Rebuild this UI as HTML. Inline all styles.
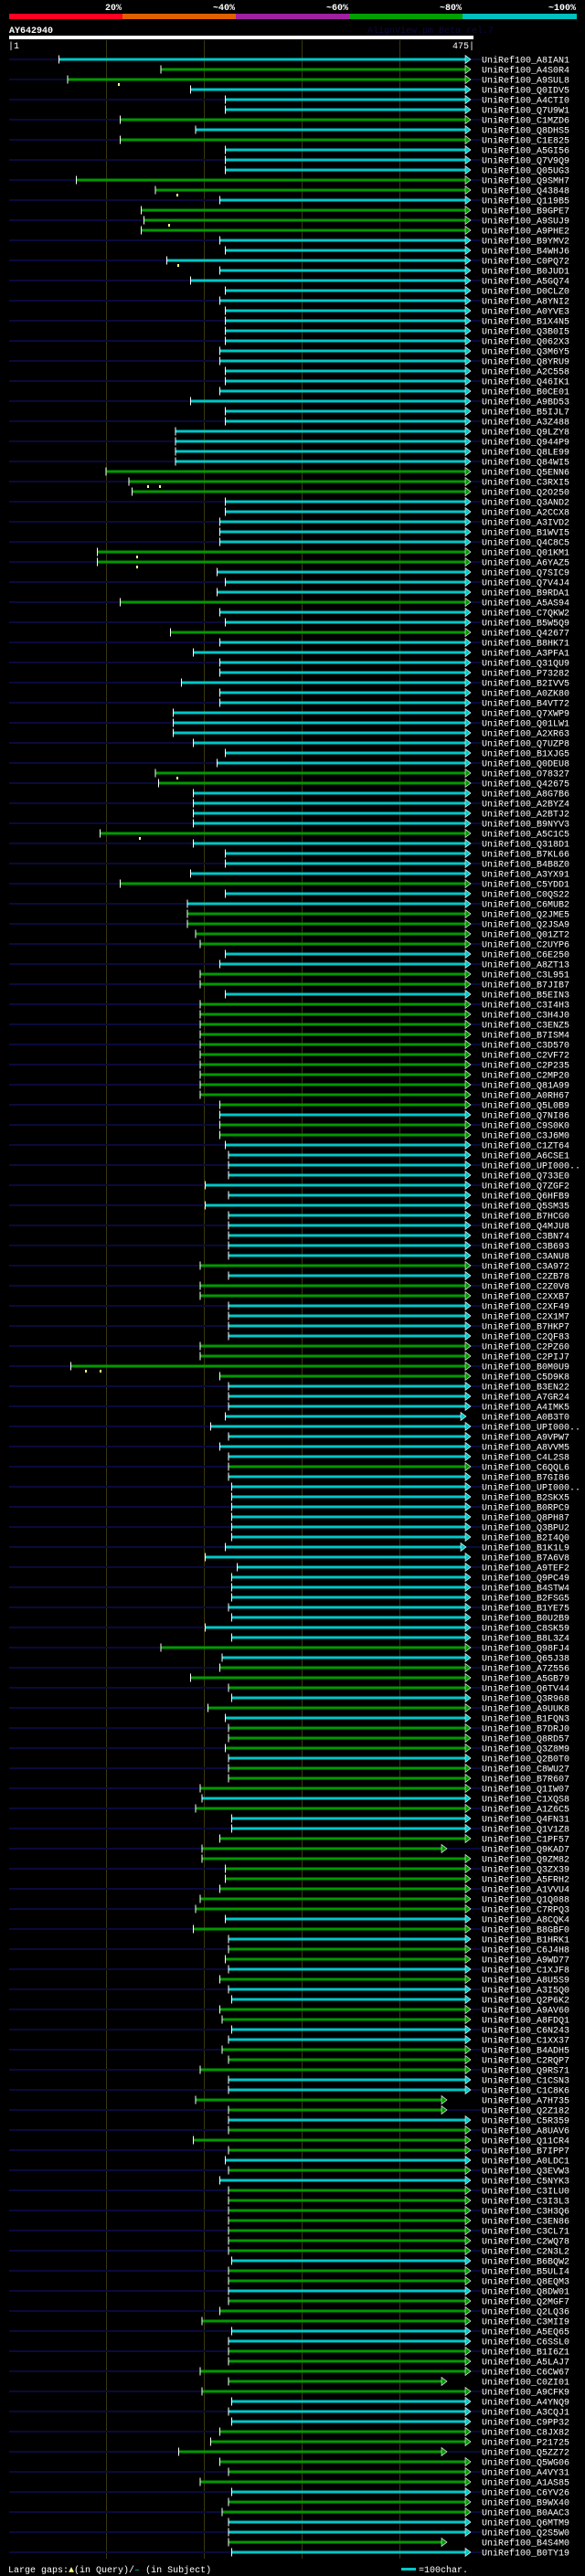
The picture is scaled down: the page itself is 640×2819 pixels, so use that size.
<!DOCTYPE html>
<html><head><meta charset="utf-8"><style>
html,body{margin:0;padding:0;background:#000;}
svg{display:block;}
text{font-family:"Liberation Mono",monospace;font-size:10px;fill:#fff;}
.c{stroke:#00c8c8;stroke-width:3;fill:none;}
.g{stroke:#009a00;stroke-width:3;fill:none;}
</style></head><body>
<svg width="640" height="2819" viewBox="0 0 640 2819" xmlns="http://www.w3.org/2000/svg">
<defs>
<polygon id="ac" points="509,-4.5 515,0 509,4.5" fill="#00c8c8" stroke="#fff" stroke-width="0.6"/>
<polygon id="ag" points="509,-4.5 515,0 509,4.5" fill="#009a00" stroke="#fff" stroke-width="0.6"/>
<rect id="t" x="-0.5" y="-4.5" width="1" height="9" fill="#fff"/>
<pattern id="nv" x="0" y="64" width="517" height="22" patternUnits="userSpaceOnUse"><rect x="0" y="0" width="517" height="2" fill="#0a0a3c"/></pattern>
</defs>
<rect width="640" height="2819" fill="#000"/>
<!-- header -->
<g font-weight="bold" text-anchor="end">
<text x="133" y="11" font-weight="bold">20%</text>
<text x="257" y="11" font-weight="bold">~40%</text>
<text x="381" y="11" font-weight="bold">~60%</text>
<text x="505" y="11" font-weight="bold">~80%</text>
<text x="630" y="11" font-weight="bold">~100%</text>
</g>
<rect x="10" y="15" width="124" height="6" fill="#ff0020"/>
<rect x="134" y="15" width="124" height="6" fill="#e06000"/>
<rect x="258" y="15" width="124" height="6" fill="#a020a0"/>
<rect x="382" y="15" width="124" height="6" fill="#00a000"/>
<rect x="506" y="15" width="125" height="6" fill="#00c0c0"/>
<text x="10" y="36" font-weight="bold" font-size="11">AY642940</text>
<text x="402" y="36" style="fill:#0a0a40">AlignView.pm Beta rel.7</text>
<rect x="10" y="39" width="508" height="4" fill="#fff"/>
<text x="9" y="53">|1</text>
<text x="519" y="53" text-anchor="end">475|</text>
<!-- grid -->
<g stroke="#3a3810" stroke-width="1">
<line x1="116.5" y1="44" x2="116.5" y2="2800"/>
<line x1="223.5" y1="44" x2="223.5" y2="2800"/>
<line x1="330.5" y1="44" x2="330.5" y2="2800"/>
<line x1="437.5" y1="44" x2="437.5" y2="2800"/>
</g>
<rect x="10" y="64" width="517" height="2730" fill="url(#nv)"/>
<g transform="translate(0,65)"><path class="c" d="M64.5 0H510"/><use href="#ac"/><use href="#t" x="64.5"/><text x="527" y="3.5">UniRef100_A8IAN1</text></g>
<g transform="translate(0,76)"><path class="g" d="M176 0H510"/><use href="#ag"/><use href="#t" x="176"/><text x="527" y="3.5">UniRef100_A4S0R4</text></g>
<g transform="translate(0,87)"><path class="g" d="M74 0H510"/><use href="#ag"/><use href="#t" x="74"/><rect x="129" y="4" width="2" height="3" fill="#ffff80"/><text x="527" y="3.5">UniRef100_A9SUL8</text></g>
<g transform="translate(0,98)"><path class="c" d="M208.5 0H510"/><use href="#ac"/><use href="#t" x="208.5"/><text x="527" y="3.5">UniRef100_Q0IDV5</text></g>
<g transform="translate(0,109)"><path class="c" d="M246.5 0H510"/><use href="#ac"/><use href="#t" x="246.5"/><text x="527" y="3.5">UniRef100_A4CTI0</text></g>
<g transform="translate(0,120)"><path class="c" d="M246.5 0H510"/><use href="#ac"/><use href="#t" x="246.5"/><text x="527" y="3.5">UniRef100_Q7U9W1</text></g>
<g transform="translate(0,131)"><path class="g" d="M131.5 0H510"/><use href="#ag"/><use href="#t" x="131.5"/><text x="527" y="3.5">UniRef100_C1MZD6</text></g>
<g transform="translate(0,142)"><path class="c" d="M214 0H510"/><use href="#ac"/><use href="#t" x="214"/><text x="527" y="3.5">UniRef100_Q8DHS5</text></g>
<g transform="translate(0,153)"><path class="g" d="M131.5 0H510"/><use href="#ag"/><use href="#t" x="131.5"/><text x="527" y="3.5">UniRef100_C1E825</text></g>
<g transform="translate(0,164)"><path class="c" d="M246.5 0H510"/><use href="#ac"/><use href="#t" x="246.5"/><text x="527" y="3.5">UniRef100_A5GI56</text></g>
<g transform="translate(0,175)"><path class="c" d="M246.5 0H510"/><use href="#ac"/><use href="#t" x="246.5"/><text x="527" y="3.5">UniRef100_Q7V9Q9</text></g>
<g transform="translate(0,186)"><path class="c" d="M246.5 0H510"/><use href="#ac"/><use href="#t" x="246.5"/><text x="527" y="3.5">UniRef100_Q05UG3</text></g>
<g transform="translate(0,197)"><path class="g" d="M83.5 0H510"/><use href="#ag"/><use href="#t" x="83.5"/><text x="527" y="3.5">UniRef100_Q9SMH7</text></g>
<g transform="translate(0,208)"><path class="g" d="M170 0H510"/><use href="#ag"/><use href="#t" x="170"/><rect x="193" y="4" width="2" height="3" fill="#ffff80"/><text x="527" y="3.5">UniRef100_Q43848</text></g>
<g transform="translate(0,219)"><path class="c" d="M240.5 0H510"/><use href="#ac"/><use href="#t" x="240.5"/><text x="527" y="3.5">UniRef100_Q119B5</text></g>
<g transform="translate(0,230)"><path class="g" d="M154.5 0H510"/><use href="#ag"/><use href="#t" x="154.5"/><text x="527" y="3.5">UniRef100_B9GPE7</text></g>
<g transform="translate(0,241)"><path class="g" d="M157.5 0H510"/><use href="#ag"/><use href="#t" x="157.5"/><rect x="184" y="4" width="2" height="3" fill="#ffff80"/><text x="527" y="3.5">UniRef100_A9SUJ9</text></g>
<g transform="translate(0,252)"><path class="g" d="M154.5 0H510"/><use href="#ag"/><use href="#t" x="154.5"/><text x="527" y="3.5">UniRef100_A9PHE2</text></g>
<g transform="translate(0,263)"><path class="c" d="M240.5 0H510"/><use href="#ac"/><use href="#t" x="240.5"/><text x="527" y="3.5">UniRef100_B9YMV2</text></g>
<g transform="translate(0,274)"><path class="c" d="M246.5 0H510"/><use href="#ac"/><use href="#t" x="246.5"/><text x="527" y="3.5">UniRef100_B4WHJ6</text></g>
<g transform="translate(0,285)"><path class="c" d="M182.5 0H510"/><use href="#ac"/><use href="#t" x="182.5"/><rect x="194" y="4" width="2" height="3" fill="#ffff80"/><text x="527" y="3.5">UniRef100_C0PQ72</text></g>
<g transform="translate(0,296)"><path class="c" d="M240.5 0H510"/><use href="#ac"/><use href="#t" x="240.5"/><text x="527" y="3.5">UniRef100_B0JUD1</text></g>
<g transform="translate(0,307)"><path class="c" d="M208.5 0H510"/><use href="#ac"/><use href="#t" x="208.5"/><text x="527" y="3.5">UniRef100_A5GQ74</text></g>
<g transform="translate(0,318)"><path class="c" d="M246.5 0H510"/><use href="#ac"/><use href="#t" x="246.5"/><text x="527" y="3.5">UniRef100_D0CLZ0</text></g>
<g transform="translate(0,329)"><path class="c" d="M240.5 0H510"/><use href="#ac"/><use href="#t" x="240.5"/><text x="527" y="3.5">UniRef100_A8YNI2</text></g>
<g transform="translate(0,340)"><path class="c" d="M246.5 0H510"/><use href="#ac"/><use href="#t" x="246.5"/><text x="527" y="3.5">UniRef100_A0YVE3</text></g>
<g transform="translate(0,351)"><path class="c" d="M246.5 0H510"/><use href="#ac"/><use href="#t" x="246.5"/><text x="527" y="3.5">UniRef100_B1X4N5</text></g>
<g transform="translate(0,362)"><path class="c" d="M246.5 0H510"/><use href="#ac"/><use href="#t" x="246.5"/><text x="527" y="3.5">UniRef100_Q3B0I5</text></g>
<g transform="translate(0,373)"><path class="c" d="M246.5 0H510"/><use href="#ac"/><use href="#t" x="246.5"/><text x="527" y="3.5">UniRef100_Q062X3</text></g>
<g transform="translate(0,384)"><path class="c" d="M240.5 0H510"/><use href="#ac"/><use href="#t" x="240.5"/><text x="527" y="3.5">UniRef100_Q3M6Y5</text></g>
<g transform="translate(0,395)"><path class="c" d="M240.5 0H510"/><use href="#ac"/><use href="#t" x="240.5"/><text x="527" y="3.5">UniRef100_Q8YRU9</text></g>
<g transform="translate(0,406)"><path class="c" d="M246.5 0H510"/><use href="#ac"/><use href="#t" x="246.5"/><text x="527" y="3.5">UniRef100_A2C558</text></g>
<g transform="translate(0,417)"><path class="c" d="M246.5 0H510"/><use href="#ac"/><use href="#t" x="246.5"/><text x="527" y="3.5">UniRef100_Q46IK1</text></g>
<g transform="translate(0,428)"><path class="c" d="M240.5 0H510"/><use href="#ac"/><use href="#t" x="240.5"/><text x="527" y="3.5">UniRef100_B0CE01</text></g>
<g transform="translate(0,439)"><path class="c" d="M208.5 0H510"/><use href="#ac"/><use href="#t" x="208.5"/><text x="527" y="3.5">UniRef100_A9BD53</text></g>
<g transform="translate(0,450)"><path class="c" d="M246.5 0H510"/><use href="#ac"/><use href="#t" x="246.5"/><text x="527" y="3.5">UniRef100_B5IJL7</text></g>
<g transform="translate(0,461)"><path class="c" d="M246.5 0H510"/><use href="#ac"/><use href="#t" x="246.5"/><text x="527" y="3.5">UniRef100_A3Z488</text></g>
<g transform="translate(0,472)"><path class="c" d="M192 0H510"/><use href="#ac"/><use href="#t" x="192"/><text x="527" y="3.5">UniRef100_Q9LZY8</text></g>
<g transform="translate(0,483)"><path class="c" d="M192 0H510"/><use href="#ac"/><use href="#t" x="192"/><text x="527" y="3.5">UniRef100_Q944P9</text></g>
<g transform="translate(0,494)"><path class="c" d="M192 0H510"/><use href="#ac"/><use href="#t" x="192"/><text x="527" y="3.5">UniRef100_Q8LE99</text></g>
<g transform="translate(0,505)"><path class="c" d="M192 0H510"/><use href="#ac"/><use href="#t" x="192"/><text x="527" y="3.5">UniRef100_Q84WI5</text></g>
<g transform="translate(0,516)"><path class="g" d="M116 0H510"/><use href="#ag"/><use href="#t" x="116"/><text x="527" y="3.5">UniRef100_Q5ENN6</text></g>
<g transform="translate(0,527)"><path class="g" d="M141 0H510"/><use href="#ag"/><use href="#t" x="141"/><rect x="161" y="4" width="2" height="3" fill="#ffff80"/><rect x="174" y="4" width="2" height="3" fill="#ffff80"/><text x="527" y="3.5">UniRef100_C3RXI5</text></g>
<g transform="translate(0,538)"><path class="g" d="M144.5 0H510"/><use href="#ag"/><use href="#t" x="144.5"/><text x="527" y="3.5">UniRef100_Q2O250</text></g>
<g transform="translate(0,549)"><path class="c" d="M246.5 0H510"/><use href="#ac"/><use href="#t" x="246.5"/><text x="527" y="3.5">UniRef100_Q3AND2</text></g>
<g transform="translate(0,560)"><path class="c" d="M246.5 0H510"/><use href="#ac"/><use href="#t" x="246.5"/><text x="527" y="3.5">UniRef100_A2CCX8</text></g>
<g transform="translate(0,571)"><path class="c" d="M240.5 0H510"/><use href="#ac"/><use href="#t" x="240.5"/><text x="527" y="3.5">UniRef100_A3IVD2</text></g>
<g transform="translate(0,582)"><path class="c" d="M240.5 0H510"/><use href="#ac"/><use href="#t" x="240.5"/><text x="527" y="3.5">UniRef100_B1WVI5</text></g>
<g transform="translate(0,593)"><path class="c" d="M240.5 0H510"/><use href="#ac"/><use href="#t" x="240.5"/><text x="527" y="3.5">UniRef100_Q4C8C5</text></g>
<g transform="translate(0,604)"><path class="g" d="M106.5 0H510"/><use href="#ag"/><use href="#t" x="106.5"/><rect x="149" y="4" width="2" height="3" fill="#ffff80"/><text x="527" y="3.5">UniRef100_Q01KM1</text></g>
<g transform="translate(0,615)"><path class="g" d="M106.5 0H510"/><use href="#ag"/><use href="#t" x="106.5"/><rect x="149" y="4" width="2" height="3" fill="#ffff80"/><text x="527" y="3.5">UniRef100_A6YAZ5</text></g>
<g transform="translate(0,626)"><path class="c" d="M237.5 0H510"/><use href="#ac"/><use href="#t" x="237.5"/><text x="527" y="3.5">UniRef100_Q7SIC9</text></g>
<g transform="translate(0,637)"><path class="c" d="M246.5 0H510"/><use href="#ac"/><use href="#t" x="246.5"/><text x="527" y="3.5">UniRef100_Q7V4J4</text></g>
<g transform="translate(0,648)"><path class="c" d="M237.5 0H510"/><use href="#ac"/><use href="#t" x="237.5"/><text x="527" y="3.5">UniRef100_B9RDA1</text></g>
<g transform="translate(0,659)"><path class="g" d="M131.5 0H510"/><use href="#ag"/><use href="#t" x="131.5"/><text x="527" y="3.5">UniRef100_A5AS94</text></g>
<g transform="translate(0,670)"><path class="c" d="M240.5 0H510"/><use href="#ac"/><use href="#t" x="240.5"/><text x="527" y="3.5">UniRef100_C7QKW2</text></g>
<g transform="translate(0,681)"><path class="c" d="M246.5 0H510"/><use href="#ac"/><use href="#t" x="246.5"/><text x="527" y="3.5">UniRef100_B5W5Q9</text></g>
<g transform="translate(0,692)"><path class="g" d="M186.5 0H510"/><use href="#ag"/><use href="#t" x="186.5"/><text x="527" y="3.5">UniRef100_Q42677</text></g>
<g transform="translate(0,703)"><path class="c" d="M240.5 0H510"/><use href="#ac"/><use href="#t" x="240.5"/><text x="527" y="3.5">UniRef100_B8HK71</text></g>
<g transform="translate(0,714)"><path class="c" d="M211.5 0H510"/><use href="#ac"/><use href="#t" x="211.5"/><text x="527" y="3.5">UniRef100_A3PFA1</text></g>
<g transform="translate(0,725)"><path class="c" d="M240.5 0H510"/><use href="#ac"/><use href="#t" x="240.5"/><text x="527" y="3.5">UniRef100_Q31QU9</text></g>
<g transform="translate(0,736)"><path class="c" d="M240.5 0H510"/><use href="#ac"/><use href="#t" x="240.5"/><text x="527" y="3.5">UniRef100_P73282</text></g>
<g transform="translate(0,747)"><path class="c" d="M198.5 0H510"/><use href="#ac"/><use href="#t" x="198.5"/><text x="527" y="3.5">UniRef100_B2IVV5</text></g>
<g transform="translate(0,758)"><path class="c" d="M240.5 0H510"/><use href="#ac"/><use href="#t" x="240.5"/><text x="527" y="3.5">UniRef100_A0ZK80</text></g>
<g transform="translate(0,769)"><path class="c" d="M240.5 0H510"/><use href="#ac"/><use href="#t" x="240.5"/><text x="527" y="3.5">UniRef100_B4VT72</text></g>
<g transform="translate(0,780)"><path class="c" d="M189.5 0H510"/><use href="#ac"/><use href="#t" x="189.5"/><text x="527" y="3.5">UniRef100_Q7XWP9</text></g>
<g transform="translate(0,791)"><path class="c" d="M189.5 0H510"/><use href="#ac"/><use href="#t" x="189.5"/><text x="527" y="3.5">UniRef100_Q01LW1</text></g>
<g transform="translate(0,802)"><path class="c" d="M189.5 0H510"/><use href="#ac"/><use href="#t" x="189.5"/><text x="527" y="3.5">UniRef100_A2XR63</text></g>
<g transform="translate(0,813)"><path class="c" d="M211.5 0H510"/><use href="#ac"/><use href="#t" x="211.5"/><text x="527" y="3.5">UniRef100_Q7UZP8</text></g>
<g transform="translate(0,824)"><path class="c" d="M246.5 0H510"/><use href="#ac"/><use href="#t" x="246.5"/><text x="527" y="3.5">UniRef100_B1XJG5</text></g>
<g transform="translate(0,835)"><path class="c" d="M237.5 0H510"/><use href="#ac"/><use href="#t" x="237.5"/><text x="527" y="3.5">UniRef100_Q0DEU8</text></g>
<g transform="translate(0,846)"><path class="g" d="M170 0H510"/><use href="#ag"/><use href="#t" x="170"/><rect x="193" y="4" width="2" height="3" fill="#ffff80"/><text x="527" y="3.5">UniRef100_O78327</text></g>
<g transform="translate(0,857)"><path class="g" d="M173.5 0H510"/><use href="#ag"/><use href="#t" x="173.5"/><text x="527" y="3.5">UniRef100_Q42675</text></g>
<g transform="translate(0,868)"><path class="c" d="M211.5 0H510"/><use href="#ac"/><use href="#t" x="211.5"/><text x="527" y="3.5">UniRef100_A8G7B6</text></g>
<g transform="translate(0,879)"><path class="c" d="M211.5 0H510"/><use href="#ac"/><use href="#t" x="211.5"/><text x="527" y="3.5">UniRef100_A2BYZ4</text></g>
<g transform="translate(0,890)"><path class="c" d="M211.5 0H510"/><use href="#ac"/><use href="#t" x="211.5"/><text x="527" y="3.5">UniRef100_A2BTJ2</text></g>
<g transform="translate(0,901)"><path class="c" d="M211.5 0H510"/><use href="#ac"/><use href="#t" x="211.5"/><text x="527" y="3.5">UniRef100_B9NYV3</text></g>
<g transform="translate(0,912)"><path class="g" d="M109.5 0H510"/><use href="#ag"/><use href="#t" x="109.5"/><rect x="152" y="4" width="2" height="3" fill="#ffff80"/><text x="527" y="3.5">UniRef100_A5C1C5</text></g>
<g transform="translate(0,923)"><path class="c" d="M211.5 0H510"/><use href="#ac"/><use href="#t" x="211.5"/><text x="527" y="3.5">UniRef100_Q318D1</text></g>
<g transform="translate(0,934)"><path class="c" d="M246.5 0H510"/><use href="#ac"/><use href="#t" x="246.5"/><text x="527" y="3.5">UniRef100_B7KL66</text></g>
<g transform="translate(0,945)"><path class="c" d="M246.5 0H510"/><use href="#ac"/><use href="#t" x="246.5"/><text x="527" y="3.5">UniRef100_B4B8Z0</text></g>
<g transform="translate(0,956)"><path class="c" d="M208.5 0H510"/><use href="#ac"/><use href="#t" x="208.5"/><text x="527" y="3.5">UniRef100_A3YX91</text></g>
<g transform="translate(0,967)"><path class="g" d="M131.5 0H510"/><use href="#ag"/><use href="#t" x="131.5"/><text x="527" y="3.5">UniRef100_C5YDD1</text></g>
<g transform="translate(0,978)"><path class="c" d="M246.5 0H510"/><use href="#ac"/><use href="#t" x="246.5"/><text x="527" y="3.5">UniRef100_C0QS22</text></g>
<g transform="translate(0,989)"><path class="c" d="M205 0H510"/><use href="#ac"/><use href="#t" x="205"/><text x="527" y="3.5">UniRef100_C6MUB2</text></g>
<g transform="translate(0,1000)"><path class="g" d="M205 0H510"/><use href="#ag"/><use href="#t" x="205"/><text x="527" y="3.5">UniRef100_Q2JME5</text></g>
<g transform="translate(0,1011)"><path class="g" d="M205 0H510"/><use href="#ag"/><use href="#t" x="205"/><text x="527" y="3.5">UniRef100_Q2JSA9</text></g>
<g transform="translate(0,1022)"><path class="g" d="M214 0H510"/><use href="#ag"/><use href="#t" x="214"/><text x="527" y="3.5">UniRef100_Q01ZT2</text></g>
<g transform="translate(0,1033)"><path class="g" d="M219 0H510"/><use href="#ag"/><use href="#t" x="219"/><text x="527" y="3.5">UniRef100_C2UYP6</text></g>
<g transform="translate(0,1044)"><path class="c" d="M246.5 0H510"/><use href="#ac"/><use href="#t" x="246.5"/><text x="527" y="3.5">UniRef100_C6E250</text></g>
<g transform="translate(0,1055)"><path class="c" d="M240.5 0H510"/><use href="#ac"/><use href="#t" x="240.5"/><text x="527" y="3.5">UniRef100_A8ZT13</text></g>
<g transform="translate(0,1066)"><path class="g" d="M219 0H510"/><use href="#ag"/><use href="#t" x="219"/><text x="527" y="3.5">UniRef100_C3L951</text></g>
<g transform="translate(0,1077)"><path class="g" d="M219 0H510"/><use href="#ag"/><use href="#t" x="219"/><text x="527" y="3.5">UniRef100_B7JIB7</text></g>
<g transform="translate(0,1088)"><path class="c" d="M246.5 0H510"/><use href="#ac"/><use href="#t" x="246.5"/><text x="527" y="3.5">UniRef100_B5EIN3</text></g>
<g transform="translate(0,1099)"><path class="g" d="M219 0H510"/><use href="#ag"/><use href="#t" x="219"/><text x="527" y="3.5">UniRef100_C3I4H3</text></g>
<g transform="translate(0,1110)"><path class="g" d="M219 0H510"/><use href="#ag"/><use href="#t" x="219"/><text x="527" y="3.5">UniRef100_C3H4J0</text></g>
<g transform="translate(0,1121)"><path class="g" d="M219 0H510"/><use href="#ag"/><use href="#t" x="219"/><text x="527" y="3.5">UniRef100_C3ENZ5</text></g>
<g transform="translate(0,1132)"><path class="g" d="M219 0H510"/><use href="#ag"/><use href="#t" x="219"/><text x="527" y="3.5">UniRef100_B7ISM4</text></g>
<g transform="translate(0,1143)"><path class="g" d="M219 0H510"/><use href="#ag"/><use href="#t" x="219"/><text x="527" y="3.5">UniRef100_C3D570</text></g>
<g transform="translate(0,1154)"><path class="g" d="M219 0H510"/><use href="#ag"/><use href="#t" x="219"/><text x="527" y="3.5">UniRef100_C2VF72</text></g>
<g transform="translate(0,1165)"><path class="g" d="M219 0H510"/><use href="#ag"/><use href="#t" x="219"/><text x="527" y="3.5">UniRef100_C2P235</text></g>
<g transform="translate(0,1176)"><path class="g" d="M219 0H510"/><use href="#ag"/><use href="#t" x="219"/><text x="527" y="3.5">UniRef100_C2MP20</text></g>
<g transform="translate(0,1187)"><path class="g" d="M219 0H510"/><use href="#ag"/><use href="#t" x="219"/><text x="527" y="3.5">UniRef100_Q81A99</text></g>
<g transform="translate(0,1198)"><path class="g" d="M219 0H510"/><use href="#ag"/><use href="#t" x="219"/><text x="527" y="3.5">UniRef100_A0RH67</text></g>
<g transform="translate(0,1209)"><path class="g" d="M240.5 0H510"/><use href="#ag"/><use href="#t" x="240.5"/><text x="527" y="3.5">UniRef100_Q5L0B9</text></g>
<g transform="translate(0,1220)"><path class="c" d="M240.5 0H510"/><use href="#ac"/><use href="#t" x="240.5"/><text x="527" y="3.5">UniRef100_Q7NI86</text></g>
<g transform="translate(0,1231)"><path class="g" d="M240.5 0H510"/><use href="#ag"/><use href="#t" x="240.5"/><text x="527" y="3.5">UniRef100_C9S0K0</text></g>
<g transform="translate(0,1242)"><path class="g" d="M240.5 0H510"/><use href="#ag"/><use href="#t" x="240.5"/><text x="527" y="3.5">UniRef100_C3J6M0</text></g>
<g transform="translate(0,1253)"><path class="c" d="M246.5 0H510"/><use href="#ac"/><use href="#t" x="246.5"/><text x="527" y="3.5">UniRef100_C1ZT64</text></g>
<g transform="translate(0,1264)"><path class="c" d="M250 0H510"/><use href="#ac"/><use href="#t" x="250"/><text x="527" y="3.5">UniRef100_A6CSE1</text></g>
<g transform="translate(0,1275)"><path class="c" d="M250 0H510"/><use href="#ac"/><use href="#t" x="250"/><text x="527" y="3.5">UniRef100_UPI000..</text></g>
<g transform="translate(0,1286)"><path class="c" d="M250 0H510"/><use href="#ac"/><use href="#t" x="250"/><text x="527" y="3.5">UniRef100_Q733E0</text></g>
<g transform="translate(0,1297)"><path class="c" d="M224.5 0H510"/><use href="#ac"/><use href="#t" x="224.5"/><text x="527" y="3.5">UniRef100_Q7ZGF2</text></g>
<g transform="translate(0,1308)"><path class="c" d="M250 0H510"/><use href="#ac"/><use href="#t" x="250"/><text x="527" y="3.5">UniRef100_Q6HFB9</text></g>
<g transform="translate(0,1319)"><path class="c" d="M224.5 0H510"/><use href="#ac"/><use href="#t" x="224.5"/><text x="527" y="3.5">UniRef100_Q5SM35</text></g>
<g transform="translate(0,1330)"><path class="c" d="M250 0H510"/><use href="#ac"/><use href="#t" x="250"/><text x="527" y="3.5">UniRef100_B7HCG0</text></g>
<g transform="translate(0,1341)"><path class="c" d="M250 0H510"/><use href="#ac"/><use href="#t" x="250"/><text x="527" y="3.5">UniRef100_Q4MJU8</text></g>
<g transform="translate(0,1352)"><path class="c" d="M250 0H510"/><use href="#ac"/><use href="#t" x="250"/><text x="527" y="3.5">UniRef100_C3BN74</text></g>
<g transform="translate(0,1363)"><path class="c" d="M250 0H510"/><use href="#ac"/><use href="#t" x="250"/><text x="527" y="3.5">UniRef100_C3B693</text></g>
<g transform="translate(0,1374)"><path class="c" d="M250 0H510"/><use href="#ac"/><use href="#t" x="250"/><text x="527" y="3.5">UniRef100_C3ANU8</text></g>
<g transform="translate(0,1385)"><path class="g" d="M219 0H510"/><use href="#ag"/><use href="#t" x="219"/><text x="527" y="3.5">UniRef100_C3A972</text></g>
<g transform="translate(0,1396)"><path class="c" d="M250 0H510"/><use href="#ac"/><use href="#t" x="250"/><text x="527" y="3.5">UniRef100_C2ZB78</text></g>
<g transform="translate(0,1407)"><path class="g" d="M219 0H510"/><use href="#ag"/><use href="#t" x="219"/><text x="527" y="3.5">UniRef100_C2Z0V8</text></g>
<g transform="translate(0,1418)"><path class="g" d="M219 0H510"/><use href="#ag"/><use href="#t" x="219"/><text x="527" y="3.5">UniRef100_C2XXB7</text></g>
<g transform="translate(0,1429)"><path class="c" d="M250 0H510"/><use href="#ac"/><use href="#t" x="250"/><text x="527" y="3.5">UniRef100_C2XF49</text></g>
<g transform="translate(0,1440)"><path class="c" d="M250 0H510"/><use href="#ac"/><use href="#t" x="250"/><text x="527" y="3.5">UniRef100_C2X1M7</text></g>
<g transform="translate(0,1451)"><path class="c" d="M250 0H510"/><use href="#ac"/><use href="#t" x="250"/><text x="527" y="3.5">UniRef100_B7HKP7</text></g>
<g transform="translate(0,1462)"><path class="c" d="M250 0H510"/><use href="#ac"/><use href="#t" x="250"/><text x="527" y="3.5">UniRef100_C2QF83</text></g>
<g transform="translate(0,1473)"><path class="g" d="M219 0H510"/><use href="#ag"/><use href="#t" x="219"/><text x="527" y="3.5">UniRef100_C2PZ60</text></g>
<g transform="translate(0,1484)"><path class="g" d="M219 0H510"/><use href="#ag"/><use href="#t" x="219"/><text x="527" y="3.5">UniRef100_C2PIJ7</text></g>
<g transform="translate(0,1495)"><path class="g" d="M77.5 0H510"/><use href="#ag"/><use href="#t" x="77.5"/><rect x="93" y="4" width="2" height="3" fill="#ffff80"/><rect x="109" y="4" width="2" height="3" fill="#ffff80"/><text x="527" y="3.5">UniRef100_B0M0U9</text></g>
<g transform="translate(0,1506)"><path class="g" d="M240.5 0H510"/><use href="#ag"/><use href="#t" x="240.5"/><text x="527" y="3.5">UniRef100_C5D9K8</text></g>
<g transform="translate(0,1517)"><path class="c" d="M250 0H510"/><use href="#ac"/><use href="#t" x="250"/><text x="527" y="3.5">UniRef100_B3EN22</text></g>
<g transform="translate(0,1528)"><path class="c" d="M250 0H510"/><use href="#ac"/><use href="#t" x="250"/><text x="527" y="3.5">UniRef100_A7GR24</text></g>
<g transform="translate(0,1539)"><path class="c" d="M250 0H510"/><use href="#ac"/><use href="#t" x="250"/><text x="527" y="3.5">UniRef100_A4IMK5</text></g>
<g transform="translate(0,1550)"><path class="c" d="M246.5 0H505"/><use href="#ac" x="-5"/><use href="#t" x="246.5"/><text x="527" y="3.5">UniRef100_A0B3T0</text></g>
<g transform="translate(0,1561)"><path class="c" d="M230.5 0H510"/><use href="#ac"/><use href="#t" x="230.5"/><text x="527" y="3.5">UniRef100_UPI000..</text></g>
<g transform="translate(0,1572)"><path class="c" d="M250 0H510"/><use href="#ac"/><use href="#t" x="250"/><text x="527" y="3.5">UniRef100_A9VPW7</text></g>
<g transform="translate(0,1583)"><path class="c" d="M240.5 0H510"/><use href="#ac"/><use href="#t" x="240.5"/><text x="527" y="3.5">UniRef100_A8VVM5</text></g>
<g transform="translate(0,1594)"><path class="c" d="M250 0H510"/><use href="#ac"/><use href="#t" x="250"/><text x="527" y="3.5">UniRef100_C4L2S8</text></g>
<g transform="translate(0,1605)"><path class="g" d="M250 0H510"/><use href="#ag"/><use href="#t" x="250"/><text x="527" y="3.5">UniRef100_C6QQL6</text></g>
<g transform="translate(0,1616)"><path class="c" d="M250 0H510"/><use href="#ac"/><use href="#t" x="250"/><text x="527" y="3.5">UniRef100_B7GI86</text></g>
<g transform="translate(0,1627)"><path class="c" d="M253.5 0H510"/><use href="#ac"/><use href="#t" x="253.5"/><text x="527" y="3.5">UniRef100_UPI000..</text></g>
<g transform="translate(0,1638)"><path class="c" d="M253.5 0H510"/><use href="#ac"/><use href="#t" x="253.5"/><text x="527" y="3.5">UniRef100_B2SKX5</text></g>
<g transform="translate(0,1649)"><path class="c" d="M253.5 0H510"/><use href="#ac"/><use href="#t" x="253.5"/><text x="527" y="3.5">UniRef100_B0RPC9</text></g>
<g transform="translate(0,1660)"><path class="c" d="M253.5 0H510"/><use href="#ac"/><use href="#t" x="253.5"/><text x="527" y="3.5">UniRef100_Q8PH87</text></g>
<g transform="translate(0,1671)"><path class="c" d="M253.5 0H510"/><use href="#ac"/><use href="#t" x="253.5"/><text x="527" y="3.5">UniRef100_Q3BPU2</text></g>
<g transform="translate(0,1682)"><path class="c" d="M253.5 0H510"/><use href="#ac"/><use href="#t" x="253.5"/><text x="527" y="3.5">UniRef100_B2I4Q0</text></g>
<g transform="translate(0,1693)"><path class="c" d="M246.5 0H505"/><use href="#ac" x="-5"/><use href="#t" x="246.5"/><text x="527" y="3.5">UniRef100_B1K1L9</text></g>
<g transform="translate(0,1704)"><path class="c" d="M224.5 0H510"/><use href="#ac"/><use href="#t" x="224.5"/><text x="527" y="3.5">UniRef100_B7A6V8</text></g>
<g transform="translate(0,1715)"><path class="c" d="M259.5 0H510"/><use href="#ac"/><use href="#t" x="259.5"/><text x="527" y="3.5">UniRef100_A9TEF2</text></g>
<g transform="translate(0,1726)"><path class="c" d="M253.5 0H510"/><use href="#ac"/><use href="#t" x="253.5"/><text x="527" y="3.5">UniRef100_Q9PC49</text></g>
<g transform="translate(0,1737)"><path class="c" d="M253.5 0H510"/><use href="#ac"/><use href="#t" x="253.5"/><text x="527" y="3.5">UniRef100_B4STW4</text></g>
<g transform="translate(0,1748)"><path class="c" d="M253.5 0H510"/><use href="#ac"/><use href="#t" x="253.5"/><text x="527" y="3.5">UniRef100_B2FSG5</text></g>
<g transform="translate(0,1759)"><path class="c" d="M250 0H510"/><use href="#ac"/><use href="#t" x="250"/><text x="527" y="3.5">UniRef100_B1YE75</text></g>
<g transform="translate(0,1770)"><path class="c" d="M253.5 0H510"/><use href="#ac"/><use href="#t" x="253.5"/><text x="527" y="3.5">UniRef100_B0U2B9</text></g>
<g transform="translate(0,1781)"><path class="c" d="M224.5 0H510"/><use href="#ac"/><use href="#t" x="224.5"/><text x="527" y="3.5">UniRef100_C8SK59</text></g>
<g transform="translate(0,1792)"><path class="c" d="M253.5 0H510"/><use href="#ac"/><use href="#t" x="253.5"/><text x="527" y="3.5">UniRef100_B8L3Z4</text></g>
<g transform="translate(0,1803)"><path class="g" d="M176 0H510"/><use href="#ag"/><use href="#t" x="176"/><text x="527" y="3.5">UniRef100_Q98FJ4</text></g>
<g transform="translate(0,1814)"><path class="c" d="M243 0H510"/><use href="#ac"/><use href="#t" x="243"/><text x="527" y="3.5">UniRef100_Q65J38</text></g>
<g transform="translate(0,1825)"><path class="g" d="M240.5 0H510"/><use href="#ag"/><use href="#t" x="240.5"/><text x="527" y="3.5">UniRef100_A7Z556</text></g>
<g transform="translate(0,1836)"><path class="g" d="M208.5 0H510"/><use href="#ag"/><use href="#t" x="208.5"/><text x="527" y="3.5">UniRef100_A5GB79</text></g>
<g transform="translate(0,1847)"><path class="g" d="M250 0H510"/><use href="#ag"/><use href="#t" x="250"/><text x="527" y="3.5">UniRef100_Q6TV44</text></g>
<g transform="translate(0,1858)"><path class="c" d="M253.5 0H510"/><use href="#ac"/><use href="#t" x="253.5"/><text x="527" y="3.5">UniRef100_Q3R968</text></g>
<g transform="translate(0,1869)"><path class="g" d="M227.5 0H510"/><use href="#ag"/><use href="#t" x="227.5"/><text x="527" y="3.5">UniRef100_A9UUK8</text></g>
<g transform="translate(0,1880)"><path class="c" d="M246.5 0H510"/><use href="#ac"/><use href="#t" x="246.5"/><text x="527" y="3.5">UniRef100_B1FQN3</text></g>
<g transform="translate(0,1891)"><path class="g" d="M250 0H510"/><use href="#ag"/><use href="#t" x="250"/><text x="527" y="3.5">UniRef100_B7DRJ0</text></g>
<g transform="translate(0,1902)"><path class="g" d="M250 0H510"/><use href="#ag"/><use href="#t" x="250"/><text x="527" y="3.5">UniRef100_Q8RD57</text></g>
<g transform="translate(0,1913)"><path class="g" d="M246.5 0H510"/><use href="#ag"/><use href="#t" x="246.5"/><text x="527" y="3.5">UniRef100_Q3Z8M9</text></g>
<g transform="translate(0,1924)"><path class="c" d="M250 0H510"/><use href="#ac"/><use href="#t" x="250"/><text x="527" y="3.5">UniRef100_Q2B0T0</text></g>
<g transform="translate(0,1935)"><path class="g" d="M250 0H510"/><use href="#ag"/><use href="#t" x="250"/><text x="527" y="3.5">UniRef100_C8WU27</text></g>
<g transform="translate(0,1946)"><path class="g" d="M250 0H510"/><use href="#ag"/><use href="#t" x="250"/><text x="527" y="3.5">UniRef100_B7R607</text></g>
<g transform="translate(0,1957)"><path class="g" d="M219 0H510"/><use href="#ag"/><use href="#t" x="219"/><text x="527" y="3.5">UniRef100_Q1IW07</text></g>
<g transform="translate(0,1968)"><path class="c" d="M221 0H510"/><use href="#ac"/><use href="#t" x="221"/><text x="527" y="3.5">UniRef100_C1XQS8</text></g>
<g transform="translate(0,1979)"><path class="g" d="M214 0H510"/><use href="#ag"/><use href="#t" x="214"/><text x="527" y="3.5">UniRef100_A1Z6C5</text></g>
<g transform="translate(0,1990)"><path class="c" d="M253.5 0H510"/><use href="#ac"/><use href="#t" x="253.5"/><text x="527" y="3.5">UniRef100_Q4FN31</text></g>
<g transform="translate(0,2001)"><path class="c" d="M253.5 0H510"/><use href="#ac"/><use href="#t" x="253.5"/><text x="527" y="3.5">UniRef100_Q1V1Z8</text></g>
<g transform="translate(0,2012)"><path class="g" d="M240.5 0H510"/><use href="#ag"/><use href="#t" x="240.5"/><text x="527" y="3.5">UniRef100_C1PF57</text></g>
<g transform="translate(0,2023)"><path class="g" d="M221 0H484"/><use href="#ag" x="-26"/><use href="#t" x="221"/><text x="527" y="3.5">UniRef100_Q9KAD7</text></g>
<g transform="translate(0,2034)"><path class="g" d="M221 0H510"/><use href="#ag"/><use href="#t" x="221"/><text x="527" y="3.5">UniRef100_Q9ZM82</text></g>
<g transform="translate(0,2045)"><path class="g" d="M246.5 0H510"/><use href="#ag"/><use href="#t" x="246.5"/><text x="527" y="3.5">UniRef100_Q3ZX39</text></g>
<g transform="translate(0,2056)"><path class="g" d="M246.5 0H510"/><use href="#ag"/><use href="#t" x="246.5"/><text x="527" y="3.5">UniRef100_A5FRH2</text></g>
<g transform="translate(0,2067)"><path class="g" d="M240.5 0H510"/><use href="#ag"/><use href="#t" x="240.5"/><text x="527" y="3.5">UniRef100_A1VVU4</text></g>
<g transform="translate(0,2078)"><path class="g" d="M219 0H510"/><use href="#ag"/><use href="#t" x="219"/><text x="527" y="3.5">UniRef100_Q1Q088</text></g>
<g transform="translate(0,2089)"><path class="g" d="M214 0H510"/><use href="#ag"/><use href="#t" x="214"/><text x="527" y="3.5">UniRef100_C7RPQ3</text></g>
<g transform="translate(0,2100)"><path class="c" d="M246.5 0H510"/><use href="#ac"/><use href="#t" x="246.5"/><text x="527" y="3.5">UniRef100_A8CQK4</text></g>
<g transform="translate(0,2111)"><path class="g" d="M211.5 0H510"/><use href="#ag"/><use href="#t" x="211.5"/><text x="527" y="3.5">UniRef100_B8GBF0</text></g>
<g transform="translate(0,2122)"><path class="c" d="M250 0H510"/><use href="#ac"/><use href="#t" x="250"/><text x="527" y="3.5">UniRef100_B1HRK1</text></g>
<g transform="translate(0,2133)"><path class="g" d="M250 0H510"/><use href="#ag"/><use href="#t" x="250"/><text x="527" y="3.5">UniRef100_C6J4H8</text></g>
<g transform="translate(0,2144)"><path class="g" d="M246.5 0H510"/><use href="#ag"/><use href="#t" x="246.5"/><text x="527" y="3.5">UniRef100_A9WD77</text></g>
<g transform="translate(0,2155)"><path class="c" d="M250 0H510"/><use href="#ac"/><use href="#t" x="250"/><text x="527" y="3.5">UniRef100_C1XJF8</text></g>
<g transform="translate(0,2166)"><path class="g" d="M240.5 0H510"/><use href="#ag"/><use href="#t" x="240.5"/><text x="527" y="3.5">UniRef100_A8U5S9</text></g>
<g transform="translate(0,2177)"><path class="c" d="M250 0H510"/><use href="#ac"/><use href="#t" x="250"/><text x="527" y="3.5">UniRef100_A3I5Q0</text></g>
<g transform="translate(0,2188)"><path class="c" d="M253.5 0H510"/><use href="#ac"/><use href="#t" x="253.5"/><text x="527" y="3.5">UniRef100_Q2P6K2</text></g>
<g transform="translate(0,2199)"><path class="g" d="M240.5 0H510"/><use href="#ag"/><use href="#t" x="240.5"/><text x="527" y="3.5">UniRef100_A9AV60</text></g>
<g transform="translate(0,2210)"><path class="g" d="M243 0H510"/><use href="#ag"/><use href="#t" x="243"/><text x="527" y="3.5">UniRef100_A8FDQ1</text></g>
<g transform="translate(0,2221)"><path class="c" d="M253.5 0H510"/><use href="#ac"/><use href="#t" x="253.5"/><text x="527" y="3.5">UniRef100_C6N243</text></g>
<g transform="translate(0,2232)"><path class="c" d="M250 0H510"/><use href="#ac"/><use href="#t" x="250"/><text x="527" y="3.5">UniRef100_C1XX37</text></g>
<g transform="translate(0,2243)"><path class="g" d="M243 0H510"/><use href="#ag"/><use href="#t" x="243"/><text x="527" y="3.5">UniRef100_B4ADH5</text></g>
<g transform="translate(0,2254)"><path class="g" d="M250 0H510"/><use href="#ag"/><use href="#t" x="250"/><text x="527" y="3.5">UniRef100_C2RQP7</text></g>
<g transform="translate(0,2265)"><path class="g" d="M219 0H510"/><use href="#ag"/><use href="#t" x="219"/><text x="527" y="3.5">UniRef100_Q9RS71</text></g>
<g transform="translate(0,2276)"><path class="c" d="M250 0H510"/><use href="#ac"/><use href="#t" x="250"/><text x="527" y="3.5">UniRef100_C1CSN3</text></g>
<g transform="translate(0,2287)"><path class="c" d="M250 0H510"/><use href="#ac"/><use href="#t" x="250"/><text x="527" y="3.5">UniRef100_C1C8K6</text></g>
<g transform="translate(0,2298)"><path class="g" d="M214 0H484"/><use href="#ag" x="-26"/><use href="#t" x="214"/><text x="527" y="3.5">UniRef100_A7H735</text></g>
<g transform="translate(0,2309)"><path class="g" d="M250 0H484"/><use href="#ag" x="-26"/><use href="#t" x="250"/><text x="527" y="3.5">UniRef100_Q2Z182</text></g>
<g transform="translate(0,2320)"><path class="c" d="M250 0H510"/><use href="#ac"/><use href="#t" x="250"/><text x="527" y="3.5">UniRef100_C5R359</text></g>
<g transform="translate(0,2331)"><path class="g" d="M250 0H510"/><use href="#ag"/><use href="#t" x="250"/><text x="527" y="3.5">UniRef100_A8UAV6</text></g>
<g transform="translate(0,2342)"><path class="g" d="M211.5 0H510"/><use href="#ag"/><use href="#t" x="211.5"/><text x="527" y="3.5">UniRef100_Q11CR4</text></g>
<g transform="translate(0,2353)"><path class="g" d="M250 0H510"/><use href="#ag"/><use href="#t" x="250"/><text x="527" y="3.5">UniRef100_B7IPP7</text></g>
<g transform="translate(0,2364)"><path class="c" d="M246.5 0H510"/><use href="#ac"/><use href="#t" x="246.5"/><text x="527" y="3.5">UniRef100_A0LDC1</text></g>
<g transform="translate(0,2375)"><path class="g" d="M250 0H510"/><use href="#ag"/><use href="#t" x="250"/><text x="527" y="3.5">UniRef100_Q3EVW3</text></g>
<g transform="translate(0,2386)"><path class="c" d="M240.5 0H510"/><use href="#ac"/><use href="#t" x="240.5"/><text x="527" y="3.5">UniRef100_C5NYK3</text></g>
<g transform="translate(0,2397)"><path class="g" d="M250 0H510"/><use href="#ag"/><use href="#t" x="250"/><text x="527" y="3.5">UniRef100_C3ILU0</text></g>
<g transform="translate(0,2408)"><path class="g" d="M250 0H510"/><use href="#ag"/><use href="#t" x="250"/><text x="527" y="3.5">UniRef100_C3I3L3</text></g>
<g transform="translate(0,2419)"><path class="g" d="M250 0H510"/><use href="#ag"/><use href="#t" x="250"/><text x="527" y="3.5">UniRef100_C3H3Q6</text></g>
<g transform="translate(0,2430)"><path class="g" d="M250 0H510"/><use href="#ag"/><use href="#t" x="250"/><text x="527" y="3.5">UniRef100_C3EN86</text></g>
<g transform="translate(0,2441)"><path class="g" d="M250 0H510"/><use href="#ag"/><use href="#t" x="250"/><text x="527" y="3.5">UniRef100_C3CL71</text></g>
<g transform="translate(0,2452)"><path class="g" d="M250 0H510"/><use href="#ag"/><use href="#t" x="250"/><text x="527" y="3.5">UniRef100_C2WQ78</text></g>
<g transform="translate(0,2463)"><path class="g" d="M250 0H510"/><use href="#ag"/><use href="#t" x="250"/><text x="527" y="3.5">UniRef100_C2N3L2</text></g>
<g transform="translate(0,2474)"><path class="c" d="M253.5 0H510"/><use href="#ac"/><use href="#t" x="253.5"/><text x="527" y="3.5">UniRef100_B6BQW2</text></g>
<g transform="translate(0,2485)"><path class="g" d="M250 0H510"/><use href="#ag"/><use href="#t" x="250"/><text x="527" y="3.5">UniRef100_B5ULI4</text></g>
<g transform="translate(0,2496)"><path class="g" d="M250 0H510"/><use href="#ag"/><use href="#t" x="250"/><text x="527" y="3.5">UniRef100_Q8EQM3</text></g>
<g transform="translate(0,2507)"><path class="c" d="M250 0H510"/><use href="#ac"/><use href="#t" x="250"/><text x="527" y="3.5">UniRef100_Q8DW01</text></g>
<g transform="translate(0,2518)"><path class="g" d="M250 0H510"/><use href="#ag"/><use href="#t" x="250"/><text x="527" y="3.5">UniRef100_Q2MGF7</text></g>
<g transform="translate(0,2529)"><path class="g" d="M240.5 0H510"/><use href="#ag"/><use href="#t" x="240.5"/><text x="527" y="3.5">UniRef100_Q2LQ36</text></g>
<g transform="translate(0,2540)"><path class="g" d="M221 0H510"/><use href="#ag"/><use href="#t" x="221"/><text x="527" y="3.5">UniRef100_C3MII9</text></g>
<g transform="translate(0,2551)"><path class="c" d="M253.5 0H510"/><use href="#ac"/><use href="#t" x="253.5"/><text x="527" y="3.5">UniRef100_A5EQ65</text></g>
<g transform="translate(0,2562)"><path class="c" d="M250 0H510"/><use href="#ac"/><use href="#t" x="250"/><text x="527" y="3.5">UniRef100_C6SSL0</text></g>
<g transform="translate(0,2573)"><path class="g" d="M250 0H510"/><use href="#ag"/><use href="#t" x="250"/><text x="527" y="3.5">UniRef100_B1I6Z1</text></g>
<g transform="translate(0,2584)"><path class="g" d="M250 0H510"/><use href="#ag"/><use href="#t" x="250"/><text x="527" y="3.5">UniRef100_A5LAJ7</text></g>
<g transform="translate(0,2595)"><path class="g" d="M219 0H510"/><use href="#ag"/><use href="#t" x="219"/><text x="527" y="3.5">UniRef100_C6CW67</text></g>
<g transform="translate(0,2606)"><path class="g" d="M250 0H484"/><use href="#ag" x="-26"/><use href="#t" x="250"/><text x="527" y="3.5">UniRef100_C0ZI01</text></g>
<g transform="translate(0,2617)"><path class="g" d="M221 0H510"/><use href="#ag"/><use href="#t" x="221"/><text x="527" y="3.5">UniRef100_A9CFK9</text></g>
<g transform="translate(0,2628)"><path class="c" d="M253.5 0H510"/><use href="#ac"/><use href="#t" x="253.5"/><text x="527" y="3.5">UniRef100_A4YNQ9</text></g>
<g transform="translate(0,2639)"><path class="c" d="M250 0H510"/><use href="#ac"/><use href="#t" x="250"/><text x="527" y="3.5">UniRef100_A3CQJ1</text></g>
<g transform="translate(0,2650)"><path class="c" d="M253.5 0H510"/><use href="#ac"/><use href="#t" x="253.5"/><text x="527" y="3.5">UniRef100_C9PP32</text></g>
<g transform="translate(0,2661)"><path class="g" d="M240.5 0H510"/><use href="#ag"/><use href="#t" x="240.5"/><text x="527" y="3.5">UniRef100_C8JX82</text></g>
<g transform="translate(0,2672)"><path class="g" d="M230.5 0H510"/><use href="#ag"/><use href="#t" x="230.5"/><text x="527" y="3.5">UniRef100_P21725</text></g>
<g transform="translate(0,2683)"><path class="g" d="M195.5 0H484"/><use href="#ag" x="-26"/><use href="#t" x="195.5"/><text x="527" y="3.5">UniRef100_Q5ZZ72</text></g>
<g transform="translate(0,2694)"><path class="g" d="M240.5 0H510"/><use href="#ag"/><use href="#t" x="240.5"/><text x="527" y="3.5">UniRef100_Q5WG06</text></g>
<g transform="translate(0,2705)"><path class="g" d="M250 0H510"/><use href="#ag"/><use href="#t" x="250"/><text x="527" y="3.5">UniRef100_A4VY31</text></g>
<g transform="translate(0,2716)"><path class="g" d="M219 0H510"/><use href="#ag"/><use href="#t" x="219"/><text x="527" y="3.5">UniRef100_A1AS85</text></g>
<g transform="translate(0,2727)"><path class="c" d="M253.5 0H510"/><use href="#ac"/><use href="#t" x="253.5"/><text x="527" y="3.5">UniRef100_C6YV26</text></g>
<g transform="translate(0,2738)"><path class="g" d="M250 0H510"/><use href="#ag"/><use href="#t" x="250"/><text x="527" y="3.5">UniRef100_B9WX40</text></g>
<g transform="translate(0,2749)"><path class="g" d="M243 0H510"/><use href="#ag"/><use href="#t" x="243"/><text x="527" y="3.5">UniRef100_B0AAC3</text></g>
<g transform="translate(0,2760)"><path class="c" d="M250 0H510"/><use href="#ac"/><use href="#t" x="250"/><text x="527" y="3.5">UniRef100_Q6MTM9</text></g>
<g transform="translate(0,2771)"><path class="c" d="M250 0H510"/><use href="#ac"/><use href="#t" x="250"/><text x="527" y="3.5">UniRef100_Q2S5W0</text></g>
<g transform="translate(0,2782)"><path class="g" d="M250 0H484"/><use href="#ag" x="-26"/><use href="#t" x="250"/><text x="527" y="3.5">UniRef100_B4S4M0</text></g>
<g transform="translate(0,2793)"><path class="c" d="M253.5 0H510"/><use href="#ac"/><use href="#t" x="253.5"/><text x="527" y="3.5">UniRef100_B0TY19</text></g>
<!-- footer -->
<text x="9" y="2815">Large gaps:<tspan style="fill:#ffff80">▲</tspan>(in Query)/<tspan style="fill:#00c8c8">–</tspan> (in Subject)</text>
<rect x="439" y="2810" width="16" height="3" fill="#00c8c8"/>
<text x="458" y="2815">=100char.</text>
</svg>
</body></html>
